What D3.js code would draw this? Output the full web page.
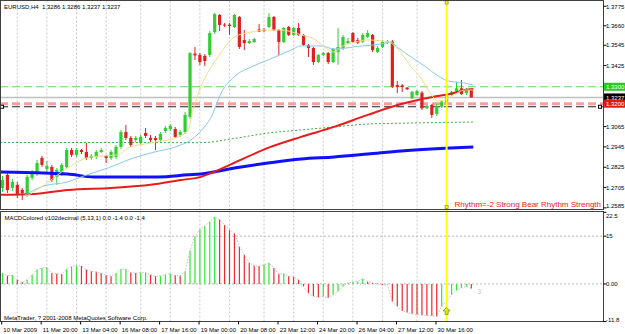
<!DOCTYPE html>
<html>
<head>
<meta charset="utf-8">
<script src="https://cdn.jsdelivr.net/npm/d3@7/dist/d3.min.js"></script>
<style>
  body { margin: 0; background: #fff; }
  svg text { font-family: "Liberation Sans", Arial, sans-serif; white-space: pre; }
</style>
</head>
<body>
<svg id="chart" width="625" height="334"></svg>
<script>
// EURUSD H4 bars, first bar = 10 Mar 2009 12:00
var opens  = [1.2703,1.2780,1.2703,1.2721,1.2691,1.2662,1.2762,1.2791,1.2880,1.2815,1.2827,1.2768,1.2791,1.2827,1.2927,1.2898,1.2927,1.2915,1.2880,1.2886,
              1.2915,1.2892,1.2880,1.2886,1.2945,1.3033,1.2998,1.2986,1.2968,1.3027,1.2998,1.2998,1.2986,1.3039,1.3051,1.3051,1.3016,1.3033,1.3122,1.3496,
              1.3488,1.3482,1.3488,1.3623,1.3724,1.3667,1.3667,1.3653,1.3712,1.3576,1.3558,1.3564,1.3638,1.3635,1.3653,1.3712,1.3635,1.3564,1.3653,1.3606,
              1.3647,1.3606,1.3547,1.3529,1.3446,1.3488,1.3499,1.3446,1.3505,1.3529,1.3558,1.3617,1.3576,1.3566,1.3594,1.3606,1.3505,1.3535,1.3558,1.3566,
              1.3310,1.3308,1.3295,1.3232,1.3252,1.3265,1.3173,1.3193,1.3139,1.3182,1.3204,1.3252,1.3271,1.3291,1.3262,1.3286];
var highs  = [1.2774,1.2797,1.2756,1.2738,1.2703,1.2780,1.2809,1.2868,1.2892,1.2862,1.2839,1.2821,1.2850,1.2939,1.2939,1.2939,1.2933,1.2968,1.2903,1.2927,
              1.2939,1.2898,1.2927,1.2957,1.3045,1.3075,1.3010,1.3010,1.3016,1.3057,1.3016,1.3010,1.3033,1.3069,1.3080,1.3063,1.3045,1.3151,1.3505,1.3535,
              1.3499,1.3493,1.3629,1.3735,1.3729,1.3676,1.3676,1.3729,1.3718,1.3635,1.3582,1.3588,1.3670,1.3647,1.3735,1.3718,1.3641,1.3653,1.3659,1.3653,
              1.3676,1.3611,1.3552,1.3535,1.3493,1.3505,1.3505,1.3529,1.3647,1.3606,1.3588,1.3623,1.3588,1.3617,1.3635,1.3611,1.3541,1.3576,1.3576,1.3576,
              1.3334,1.3316,1.3299,1.3275,1.3281,1.3275,1.3193,1.3198,1.3198,1.3222,1.3252,1.3275,1.3330,1.3340,1.3293,1.3286];
var lows   = [1.2679,1.2673,1.2685,1.2644,1.2632,1.2650,1.2750,1.2774,1.2827,1.2797,1.2738,1.2721,1.2774,1.2815,1.2886,1.2886,1.2903,1.2868,1.2868,1.2874,
              1.2909,1.2850,1.2868,1.2874,1.2933,1.2986,1.2945,1.2974,1.2957,1.2998,1.2974,1.2927,1.2974,1.3027,1.3039,1.2998,1.3004,1.3021,1.3110,1.3458,
              1.3429,1.3423,1.3476,1.3611,1.3629,1.3653,1.3606,1.3647,1.3523,1.3517,1.3552,1.3558,1.3623,1.3623,1.3647,1.3629,1.3488,1.3558,1.3600,1.3600,
              1.3600,1.3541,1.3476,1.3429,1.3440,1.3482,1.3434,1.3440,1.3429,1.3517,1.3552,1.3558,1.3552,1.3558,1.3588,1.3505,1.3499,1.3529,1.3552,1.3293,
              1.3263,1.3269,1.3281,1.3228,1.3246,1.3163,1.3169,1.3116,1.3128,1.3175,1.3198,1.3246,1.3266,1.3252,1.3252,1.3237];
var closes = [1.2750,1.2691,1.2738,1.2662,1.2673,1.2768,1.2791,1.2850,1.2839,1.2833,1.2750,1.2809,1.2839,1.2927,1.2898,1.2927,1.2915,1.2880,1.2892,1.2915,
              1.2927,1.2880,1.2915,1.2945,1.3033,1.2998,1.2957,1.2998,1.3004,1.3010,1.2986,1.2986,1.3021,1.3057,1.3069,1.3004,1.3033,1.3134,1.3499,1.3485,
              1.3446,1.3452,1.3617,1.3729,1.3665,1.3662,1.3659,1.3724,1.3535,1.3558,1.3570,1.3582,1.3626,1.3629,1.3712,1.3635,1.3564,1.3647,1.3606,1.3647,
              1.3606,1.3547,1.3529,1.3446,1.3488,1.3499,1.3446,1.3523,1.3535,1.3594,1.3570,1.3564,1.3560,1.3606,1.3617,1.3517,1.3529,1.3564,1.3566,1.3300,
              1.3299,1.3299,1.3285,1.3271,1.3275,1.3173,1.3187,1.3134,1.3187,1.3212,1.3246,1.3271,1.3291,1.3257,1.3281,1.3237];

// moving averages at these bar positions
var fastMaBars = [4.7,8.5,13.2,17.9,23.4,25.4,30,35.6,37.6,38.6,40.2,43.7,47,50.4,53.8,56.5,60.5,63.5,65.2,67.2,68.6,70.7,74,78.2,80.8,82.8,84.8,86.9,88.3,89.5,91.5,93.6,95.4];
var fastMa     = [1.2650,1.2721,1.2821,1.2886,1.2898,1.2939,1.2968,1.3004,1.3045,1.3163,1.3299,1.3476,1.3594,1.3623,1.3635,1.3635,1.3606,1.3576,1.3535,1.3505,1.3535,1.3558,1.3576,1.3564,1.3499,1.3417,1.3352,1.3252,1.3216,1.3222,1.3252,1.3281,1.3281];
var midMaBars  = [4.3,8.4,13.2,16.5,21.4,26.6,30,36.2,38.2,40.2,42.3,44.3,46.9,50.4,53.8,58.5,60.5,64.6,67.2,72.7,76.7,78.7,80.2,82.8,85.5,88.3,90.3,93.6,95.4];
var midMa      = [1.2656,1.2715,1.2738,1.2774,1.2821,1.2880,1.2909,1.2957,1.2986,1.3039,1.3122,1.3263,1.3358,1.3417,1.3458,1.3517,1.3541,1.3541,1.3523,1.3541,1.3552,1.3564,1.3529,1.3476,1.3423,1.3364,1.3334,1.3322,1.3310];
var slowMaBars = [-0.5,6.4,13.2,22,30,36.2,40.2,42.3,46.9,53.8,60.5,67.2,74,80.8,84.2,88.3,91.5,93.6,95.4];
var slowMa     = [1.2662,1.2667,1.2691,1.2703,1.2721,1.2750,1.2768,1.2791,1.2850,1.2939,1.3004,1.3063,1.3134,1.3198,1.3222,1.3246,1.3263,1.3281,1.3287];
var longMaBars = [-0.5,8.4,13.2,18.5,31.5,37.6,40.2,47,53.8,60.5,67.2,74,80.8,95.4];
var longMa     = [1.2797,1.2791,1.2785,1.2768,1.2768,1.2780,1.2785,1.2821,1.2850,1.2874,1.2886,1.2903,1.2921,1.2945];
var dotMaBars  = [-0.5,20,40.2,47,53.8,60.5,67.2,74,82.8,95.4];
var dotMa      = [1.2971,1.2971,1.2970,1.2995,1.3027,1.3045,1.3063,1.3080,1.3086,1.3092];

// MACDColored (5,13,1)
var macd = [3.4,2.6,2.7,1.3,0.5,1.3,2.9,4.5,5.0,5.2,3.4,3.2,3.1,4.7,5.5,5.8,5.6,4.5,3.9,3.8,
            3.4,2.7,2.4,3.4,4.6,4.7,3.6,3.4,3.5,3.6,2.9,2.4,2.6,2.9,3.2,2.7,2.6,3.9,10.5,15.0,
            17.2,18.2,19.6,21.0,20.2,18.5,17.0,16.0,11.8,9.2,6.6,5.7,5.6,6.0,6.6,5.0,3.1,3.3,2.4,2.2,
            1.3,-0.8,-2.9,-3.9,-4.2,-3.9,-4.4,-3.4,-2.4,-0.8,0.3,0.6,0.8,1.6,0.8,0.3,0.05,-0.3,-0.2,-5.5,
            -7.1,-8.4,-9.0,-9.4,-9.6,-9.8,-9.9,-10.0,-10.2,-7.0,-5.5,-3.4,-2.1,-1.3,-0.8,-1.4];

var priceTicks = [1.3775, 1.3660, 1.3545, 1.3425, 1.3065, 1.2945, 1.2825, 1.2705, 1.2585];
var macdTicks = [22.5, 15, 0, -11.8];
var macdTickLabels = ["22.5", "15", "0.00", "-11.8"];
var macdLevels = [15, 0];
var timeBars = [0, 8, 16, 24, 32, 40, 48, 56, 64, 72, 80, 88];
var timeLabels = ["10 Mar 2009", "11 Mar 20:00", "13 Mar 04:00", "16 Mar 08:00", "17 Mar 16:00", "19 Mar 00:00",
                  "20 Mar 08:00", "23 Mar 12:00", "24 Mar 20:00", "26 Mar 04:00", "27 Mar 12:00", "30 Mar 16:00"];
var dayBars = [3, 9, 15, 21, 28, 34, 40, 46, 53, 59, 65, 71, 77, 84];
var levelTarget = 1.3300, levelBid = 1.3237, levelStop = 1.3200, levelLine = 1.3182;
var markerBar = 90;

var svg = d3.select("#chart");
var plotRight = 603.5;
var mainTop = 0.5, mainBottom = 209.5, macdTop = 211.5, macdBottom = 321.5;

var x = d3.scaleLinear().domain([0, 95]).range([2.5, 471.3]);
var y = d3.scaleLinear().domain([1.2585, 1.3775]).range([207.9, 6.3]);
var ym = d3.scaleLinear().domain([-11.8, 22.5]).range([321.5, 212.3]);

svg.append("rect").attr("width", 625).attr("height", 334).attr("fill", "#fff");

var clipMain = svg.append("clipPath").attr("id", "clip-main")
  .append("rect").attr("x", 0).attr("y", 0).attr("width", plotRight).attr("height", mainBottom);
var clipMacd = svg.append("clipPath").attr("id", "clip-macd")
  .append("rect").attr("x", 0).attr("y", macdTop).attr("width", plotRight).attr("height", macdBottom - macdTop);

// day grid
[[mainTop, mainBottom], [macdTop, macdBottom]].forEach(function(p) {
  svg.append("g").selectAll("line").data(dayBars).enter().append("line")
    .attr("x1", function(d) { return x(d); }).attr("x2", function(d) { return x(d); })
    .attr("y1", p[0]).attr("y2", p[1])
    .attr("stroke", "#c8c8c8").attr("stroke-width", 1).attr("stroke-dasharray", "2,2");
});

var main = svg.append("g").attr("clip-path", "url(#clip-main)");

// horizontal levels
main.append("line").attr("x1", 0).attr("x2", plotRight).attr("y1", y(levelTarget)).attr("y2", y(levelTarget))
  .attr("stroke", "#5fd35f").attr("stroke-width", 1).attr("stroke-dasharray", "8,4");
main.append("line").attr("x1", 0).attr("x2", plotRight).attr("y1", y(levelBid)).attr("y2", y(levelBid))
  .attr("stroke", "#c0c0c0").attr("stroke-width", 1.5);
main.append("line").attr("x1", 0).attr("x2", plotRight).attr("y1", y(levelStop)).attr("y2", y(levelStop))
  .attr("stroke", "#ff9c9c").attr("stroke-width", 3).attr("stroke-dasharray", "8,4");
main.append("line").attr("x1", 0).attr("x2", plotRight).attr("y1", y(levelLine)).attr("y2", y(levelLine))
  .attr("stroke", "#222").attr("stroke-width", 1).attr("stroke-dasharray", "8,4");
[2, 600].forEach(function(px) {
  main.append("rect").attr("x", px - 1.5).attr("y", y(levelLine) - 1.5).attr("width", 3).attr("height", 3)
    .attr("fill", "#fff").attr("stroke", "#000").attr("stroke-width", 1);
});

// candles
var bars = d3.range(opens.length);
function candleColor(i) { return closes[i] >= opens[i] ? "#2fcf2f" : "#dd2020"; }
main.append("g").selectAll("line").data(bars).enter().append("line")
  .attr("x1", function(i) { return x(i); }).attr("x2", function(i) { return x(i); })
  .attr("y1", function(i) { return y(highs[i]); }).attr("y2", function(i) { return y(lows[i]); })
  .attr("stroke", candleColor).attr("stroke-width", 1);
main.append("g").selectAll("rect").data(bars).enter().append("rect")
  .attr("x", function(i) { return x(i) - 1.6; })
  .attr("width", 3.2)
  .attr("y", function(i) { return y(Math.max(opens[i], closes[i])); })
  .attr("height", function(i) { return Math.max(1, Math.abs(y(opens[i]) - y(closes[i]))); })
  .attr("fill", candleColor);

// moving averages
function maLine(xs, vs, color, w, dash) {
  var line = d3.line().x(function(d) { return x(d[0]); }).y(function(d) { return y(d[1]); })
    .curve(d3.curveMonotoneX);
  main.append("path").datum(d3.zip(xs, vs)).attr("d", line)
    .attr("fill", "none").attr("stroke", color).attr("stroke-width", w)
    .attr("stroke-dasharray", dash || null);
}
maLine(dotMaBars, dotMa, "#3fa83f", 1, "2,2");
maLine(longMaBars, longMa, "#1010ff", 3);
maLine(slowMaBars, slowMa, "#e81c1c", 2);
maLine(midMaBars, midMa, "#88c8e8", 1);
maLine(fastMaBars, fastMa, "#f0dc88", 1);

// MACD pane
var macdG = svg.append("g").attr("clip-path", "url(#clip-macd)");
macdG.append("g").selectAll("line").data(macdLevels).enter().append("line")
  .attr("x1", 0).attr("x2", plotRight)
  .attr("y1", function(d) { return ym(d); }).attr("y2", function(d) { return ym(d); })
  .attr("stroke", "#b8b8b8").attr("stroke-width", 1).attr("stroke-dasharray", "2,2");
macdG.append("g").selectAll("line").data(bars).enter().append("line")
  .attr("x1", function(i) { return x(i); }).attr("x2", function(i) { return x(i); })
  .attr("y1", ym(0)).attr("y2", function(i) { return ym(macd[i]); })
  .attr("stroke", function(i) { return (i === 0 || macd[i] >= macd[i - 1]) ? "#2ee82e" : "#f02828"; })
  .attr("stroke-width", 1.2);
macdG.append("path").datum(bars)
  .attr("d", d3.line().x(function(i) { return x(i); }).y(function(i) { return ym(macd[i]); }))
  .attr("fill", "none").attr("stroke", "#c0c0c0").attr("stroke-width", 1).attr("stroke-dasharray", "1.5,1.5");
svg.append("text").attr("x", x(95) + 6).attr("y", ym(-1.4) + 6)
  .attr("font-size", 7).attr("fill", "#c8c8c8").text("3");

// marker line
svg.append("line").attr("x1", x(markerBar)).attr("x2", x(markerBar)).attr("y1", 0).attr("y2", macdBottom)
  .attr("stroke", "#ffff00").attr("stroke-width", 2);
[2.5, 207].forEach(function(py) {
  svg.append("rect").attr("x", x(markerBar) - 1.5).attr("y", py - 1.5).attr("width", 3).attr("height", 3)
    .attr("fill", "#ffff00").attr("stroke", "#a0a000").attr("stroke-width", 0.8);
});
var ax = x(markerBar), ay = ym(macd[markerBar]) + 10;
svg.append("path")
  .attr("d", "M" + ax + "," + (ay - 4) + "l3.5,3.5h-2v3.5h-3v-3.5h-2z")
  .attr("fill", "#e8e800").attr("stroke", "#68a800").attr("stroke-width", 0.8);

// frames
svg.append("rect").attr("x", mainTop).attr("y", mainTop).attr("width", plotRight - 0.5).attr("height", mainBottom - mainTop)
  .attr("fill", "none").attr("stroke", "#404040").attr("stroke-width", 1);
svg.append("rect").attr("x", 0.5).attr("y", macdTop).attr("width", plotRight - 0.5).attr("height", macdBottom - macdTop)
  .attr("fill", "none").attr("stroke", "#404040").attr("stroke-width", 1);

// price axis
var pa = svg.append("g");
pa.selectAll("line").data(priceTicks).enter().append("line")
  .attr("x1", plotRight).attr("x2", plotRight + 3)
  .attr("y1", function(d) { return y(d); }).attr("y2", function(d) { return y(d); })
  .attr("stroke", "#000");
pa.selectAll("text").data(priceTicks).enter().append("text")
  .attr("x", 606).attr("y", function(d) { return Math.min(y(d), 206) + 2.2; })
  .attr("font-size", 6).attr("fill", "#000").text(function(d) { return d.toFixed(4); });

function priceBox(v, bg, label) {
  pa.append("rect").attr("x", 604).attr("y", y(v) - 4).attr("width", 21).attr("height", 8).attr("fill", bg);
  pa.append("text").attr("x", 606).attr("y", y(v) + 2.2).attr("font-size", 6).attr("fill", "#fff").text(label);
}
priceBox(levelTarget, "#22cc22", "1.3300");
priceBox(levelBid, "#000000", "1.3237");
priceBox(levelStop, "#e01818", "1.3200");

// macd axis
var ma = svg.append("g");
ma.selectAll("line").data(macdTicks).enter().append("line")
  .attr("x1", plotRight).attr("x2", plotRight + 3)
  .attr("y1", function(d) { return ym(d); }).attr("y2", function(d) { return ym(d); })
  .attr("stroke", "#000");
ma.selectAll("text").data(macdTicks).enter().append("text")
  .attr("x", 606)
  .attr("y", function(d, k) { return ym(d) + (k === 0 ? 5.5 : k === macdTicks.length - 1 ? 0.5 : 2.2); })
  .attr("font-size", 6).attr("fill", "#000").text(function(d, k) { return macdTickLabels[k]; });

// time axis
var ta = svg.append("g");
ta.selectAll("line").data(timeBars).enter().append("line")
  .attr("x1", function(d) { return x(d) - 0.8; }).attr("x2", function(d) { return x(d) - 0.8; })
  .attr("y1", macdBottom).attr("y2", macdBottom + 3).attr("stroke", "#000");
ta.selectAll("text").data(timeBars).enter().append("text")
  .attr("x", function(d) { return x(d) + 0.8; }).attr("y", 331.5)
  .attr("font-size", 6).attr("fill", "#000").text(function(d, k) { return timeLabels[k]; });

// captions
svg.append("text").attr("x", 4).attr("y", 8.8).attr("font-size", 6).attr("fill", "#000")
  .text("EURUSD,H4  1.3286 1.3286 1.3237 1.3237");
svg.append("text").attr("x", 4.5).attr("y", 219.5).attr("font-size", 6).attr("fill", "#000")
  .text("MACDColored v102decimal (5,13,1) 0.0 -1.4 0.0 -1.4");
svg.append("text").attr("x", 4).attr("y", 320).attr("font-size", 6).attr("fill", "#000")
  .text("MetaTrader, ? 2001-2008 MetaQuotes Software Corp.");
svg.append("text").attr("x", 601).attr("y", 206.5).attr("text-anchor", "end").attr("font-size", 8)
  .attr("fill", "#ee2222").text("Rhythm=-2 Strong Bear Rhythm Strength");
</script>
</body>
</html>
